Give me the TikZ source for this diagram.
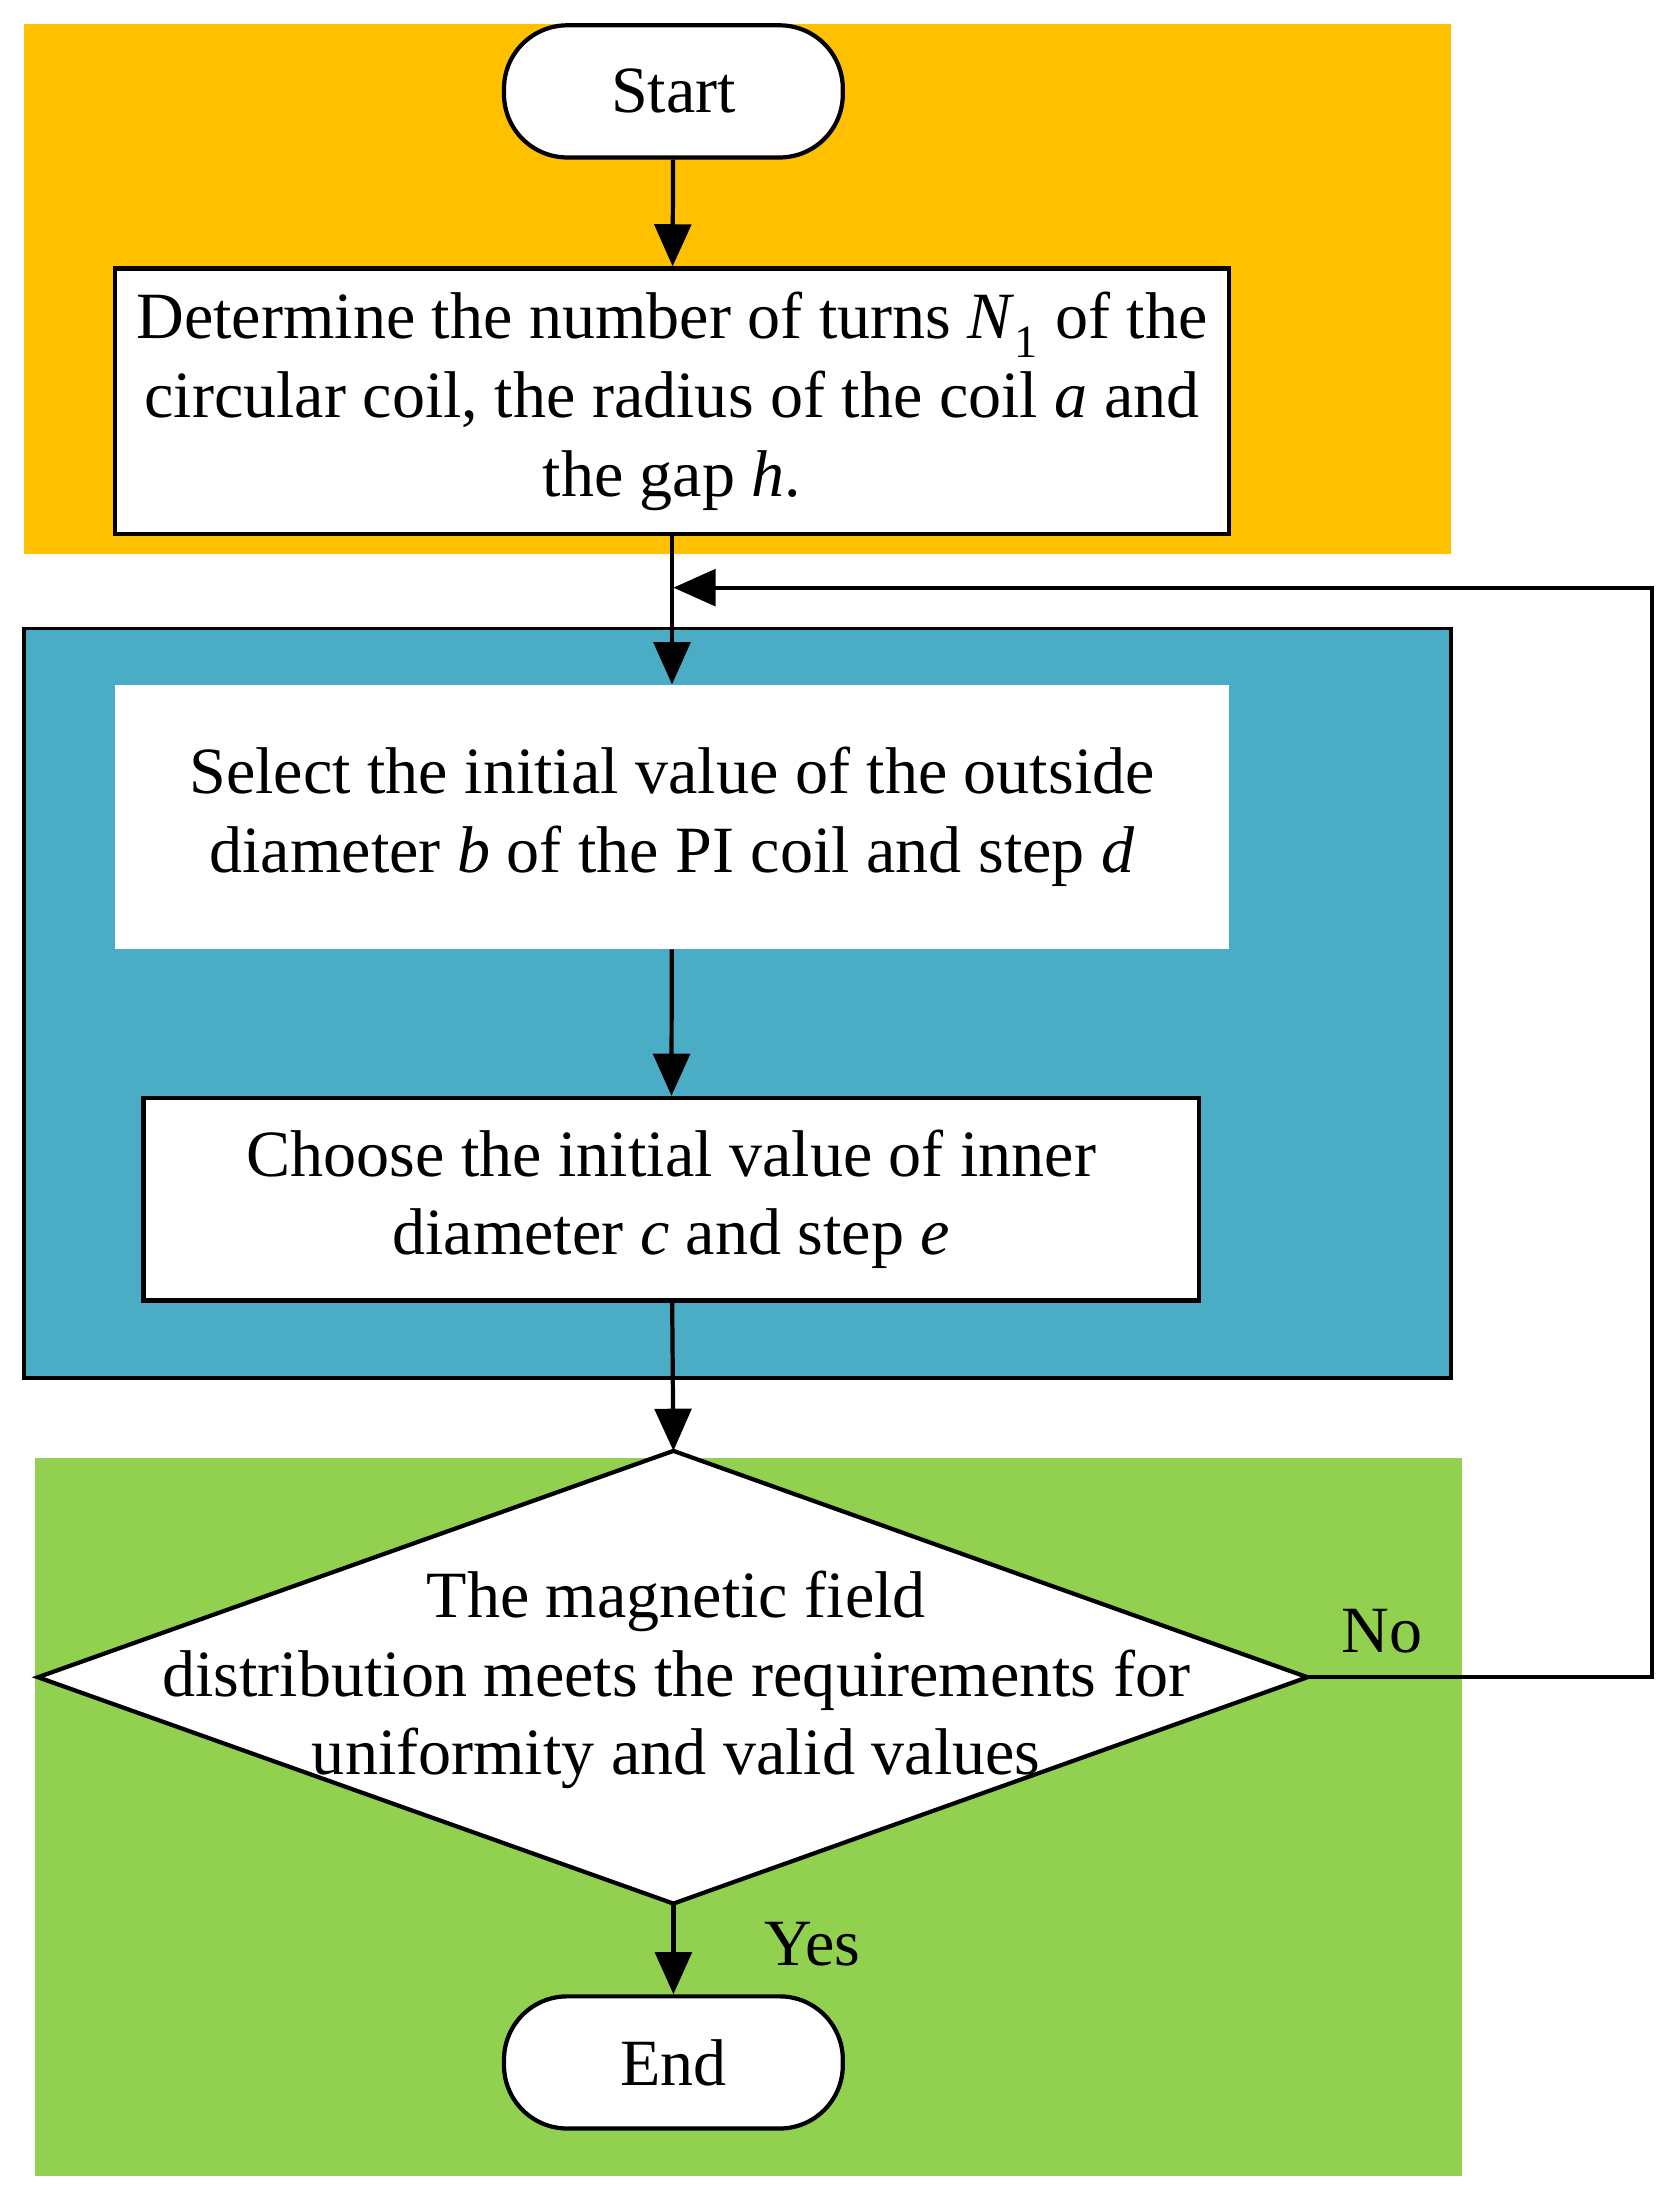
\documentclass[tikz,border=0pt]{standalone}
\usepackage{fontspec}
\setmainfont{Liberation Serif}
\usetikzlibrary{arrows.meta}
\definecolor{orng}{HTML}{FFC000}
\definecolor{blu}{HTML}{4BACC6}
\definecolor{grn}{HTML}{92D050}
\begin{document}
\begin{tikzpicture}[x=1pt,y=-1pt,
  txt/.style={font=\fontsize{47}{56}\selectfont,align=center},
  box/.style={draw,line width=3pt,fill=white,txt},
  term/.style={box,rounded corners=45pt,minimum width=241pt,minimum height=94pt},
  ln/.style={line width=3pt},
  arr/.style={ln,-{Triangle[length=30pt,width=26pt]}}]
\useasboundingbox (0,0) rectangle (1190,1567);
\fill[orng] (17,17) rectangle (1032,394);
\fill[blu,draw=black,line width=2.5pt] (17,447) rectangle (1032,980);
\fill[grn] (25,1037) rectangle (1040,1548);
\node[term] (start) at (479,65) {Start};
\node[box,minimum width=792pt,minimum height=189pt] (b1) at (478,285.5)
  {Determine the number of turns \textit{N}\textsubscript{1} of the\\circular coil, the radius of the coil \textit{a} and\\the gap \textit{h}.};
\node[fill=white,txt,minimum width=792pt,minimum height=188pt] (b2) at (478,581)
  {Select the initial value of the outside\\diameter \textit{b} of the PI coil and step \textit{d}};
\node[box,minimum width=751pt,minimum height=144pt] (b3) at (477.5,853)
  {Choose the initial value of inner\\diameter \textit{c} and step \textit{e}};
\coordinate (dt) at (479,1032);
\coordinate (dr) at (930,1193);
\coordinate (db) at (479,1354);
\coordinate (dl) at (27,1193);
\draw[ln,fill=white] (dt) -- (dr) -- (db) -- (dl) -- cycle;
\node[txt] (dtext) at (481,1195) {The magnetic field\\distribution meets the requirements for\\uniformity and valid values};
\node[term] (end) at (479,1467) {End};
\coordinate (c1) at (1175,1193);
\coordinate (c2) at (1175,418);
\coordinate (c3) at (479,418);
\draw[arr] (start) -- (b1);
\draw[arr] (b1) -- (b2);
\draw[arr] (b2) -- (b3);
\draw[arr] (b3) -- (dt);
\draw[arr] (db) -- (end);
\draw[arr] (dr) -- (c1) -- (c2) -- (c3);
\node[txt] (no) at (983,1160) {No};
\node[txt] (yes) at (578,1383) {Yes};
\end{tikzpicture}
\end{document}
